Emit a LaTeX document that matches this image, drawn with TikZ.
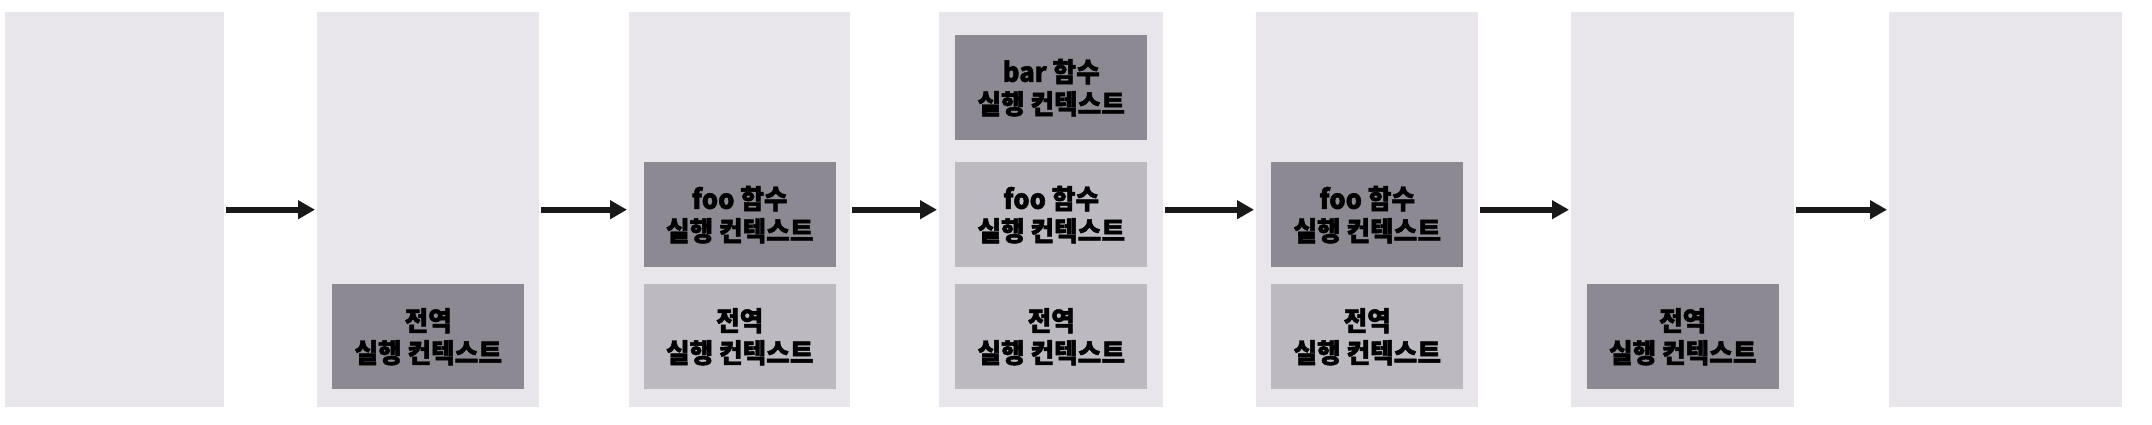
\documentclass[tikz,border=0pt]{standalone}
\usepackage{fontspec}
\setmainfont{Noto Sans CJK KR}
\newfontfamily\boxfont{Noto Sans CJK KR}[BoldFeatures={FakeBold=1.6,FakeStretch=0.95}]
\usetikzlibrary{arrows.meta}
\definecolor{colbg}{HTML}{E9E6EB}
\definecolor{boxdark}{HTML}{8D8993}
\definecolor{boxlight}{HTML}{BDB9C1}
\begin{document}
\begin{tikzpicture}[x=1pt,y=-1pt,
  stackcol/.style={fill=colbg, draw=none, minimum height=395pt, inner sep=0pt, anchor=north west},
  ctx/.style={minimum height=105pt, minimum width=192pt, inner sep=0pt, anchor=north,
    align=center, font=\boxfont\bfseries\fontsize{27}{32}\selectfont, text=black},
  dark/.style={ctx, fill=boxdark},
  light/.style={ctx, fill=boxlight},
  arr/.style={line width=6pt, draw=black!90, -{Triangle[length=17pt,width=18pt]}, shorten <=2pt, shorten >=2pt}
]
\useasboundingbox (0,0) rectangle (2152,424);
\coordinate (rowA) at (0,35);
\coordinate (rowB) at (0,162);
\coordinate (rowC) at (0,284);

\node[stackcol, minimum width=219pt] (c1) at (5,12) {};
\node[stackcol, minimum width=222pt] (c2) at (317,12) {};
\node[stackcol, minimum width=221pt] (c3) at (629,12) {};
\node[stackcol, minimum width=224pt] (c4) at (939,12) {};
\node[stackcol, minimum width=222pt] (c5) at (1256,12) {};
\node[stackcol, minimum width=223pt] (c6) at (1571,12) {};
\node[stackcol, minimum width=233pt] (c7) at (1889,12) {};

\node[dark] (g2) at (c2 |- rowC) {전역\\실행 컨텍스트};

\node[dark] (f3) at (c3 |- rowB) {foo 함수\\실행 컨텍스트};
\node[light] (g3) at (c3 |- rowC) {전역\\실행 컨텍스트};

\node[dark] (b4) at (c4 |- rowA) {bar 함수\\실행 컨텍스트};
\node[light] (f4) at (c4 |- rowB) {foo 함수\\실행 컨텍스트};
\node[light] (g4) at (c4 |- rowC) {전역\\실행 컨텍스트};

\node[dark] (f5) at (c5 |- rowB) {foo 함수\\실행 컨텍스트};
\node[light] (g5) at (c5 |- rowC) {전역\\실행 컨텍스트};

\node[dark] (g6) at (c6 |- rowC) {전역\\실행 컨텍스트};

\draw[arr] (c1.east) -- (c2.west);
\draw[arr] (c2.east) -- (c3.west);
\draw[arr] (c3.east) -- (c4.west);
\draw[arr] (c4.east) -- (c5.west);
\draw[arr] (c5.east) -- (c6.west);
\draw[arr] (c6.east) -- (c7.west);
\end{tikzpicture}
\end{document}
